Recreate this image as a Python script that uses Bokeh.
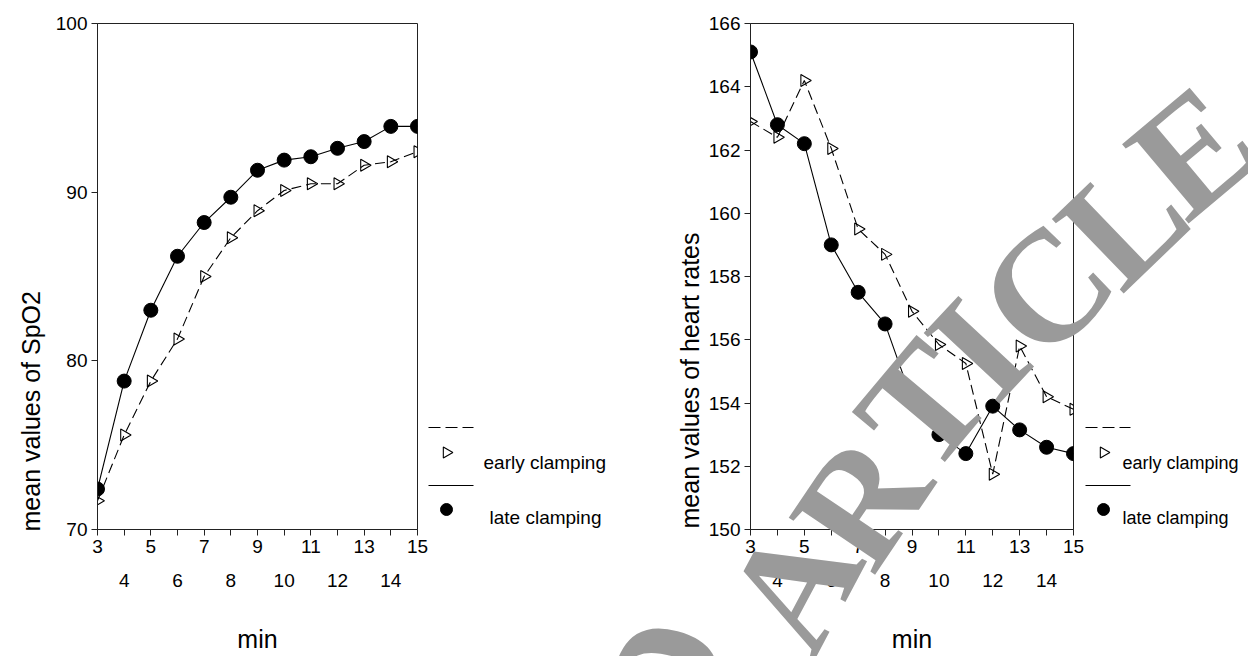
from math import pi, radians
from bokeh.plotting import figure
from bokeh.layouts import row, column
from bokeh.models import Range1d, LinearAxis, FixedTicker
from bokeh.core.properties import value
from bokeh.embed import file_html
from bokeh.resources import INLINE

# ---------------- data ----------------
minutes = [3, 4, 5, 6, 7, 8, 9, 10, 11, 12, 13, 14, 15]
even_minutes = [4, 6, 8, 10, 12, 14]

spo2_early = [71.7, 75.6, 78.8, 81.3, 85.0, 87.3, 88.9, 90.1, 90.5, 90.5, 91.6, 91.8, 92.4]
spo2_late = [72.4, 78.8, 83.0, 86.2, 88.2, 89.7, 91.3, 91.9, 92.1, 92.6, 93.0, 93.9, 93.9]

hr_early = [162.9, 162.4, 164.2, 162.05, 159.5, 158.7, 156.9, 155.85, 155.25, 151.75, 155.8, 154.2, 153.8]
hr_late = [165.1, 162.8, 162.2, 159.0, 157.5, 156.5, 154.1, 153.0, 152.4, 153.9, 153.15, 152.6, 152.4]

spo2_ticks = [70, 80, 90, 100]
hr_ticks = [150, 152, 154, 156, 158, 160, 162, 164, 166]

series_names = ["early clamping", "late clamping"]
x_title = "min"
y_titles = ["mean values of SpO2", "mean values of heart rates"]

watermark_letters = ["D", "A", "R", "T", "I", "C", "L", "E"]

# ---------------- styling / layout (page pixels) ----------------
FONT = "Liberation Sans"
SERIF = "Liberation Serif"
TICK_SIZE = "19px"
TITLE_SIZE = "25px"
AXIS_COLOR = "#222222"
EARLY_DASH = "10 5"

PAGE_W, PAGE_H = 1248, 656
FRAME_TOP, FRAME_H = 23, 506

# y titles: x centre, bottom end (page px)
ytitle_x = [30, 689]
ytitle_y = [531, 528]

# legend blocks: left edge of the line samples, rows' y, text x, font sizes
leg_x0 = [428, 1085]
leg_text_x_early = [483, 1122]
leg_text_x_late = [489, 1122]
leg_font = ["19px", "18px"]
LEG_ROW_Y = [427, 452, 462, 485, 509, 517]   # dash line, triangle, text, solid line, circle, text
LEG_LINE_LEN = 45

# watermark letter placement (page px) and rotation (degrees)
wm_x = [663, 793, 860, 922, 977, 1045, 1122, 1192]
wm_y = [678, 585, 500, 405, 348, 288, 220, 150]
wm_a = [75, 62, 56, 50, 47, 45, 44, 40]
WM_SIZE = "158px"


def make_panel(y_lo, y_hi, yticks, early, late, width, border_left, frame_w):
    p = figure(width=width, height=PAGE_H,
               x_range=Range1d(3, 15), y_range=Range1d(y_lo, y_hi),
               output_backend="svg", toolbar_location=None,
               x_axis_location=None, y_axis_location=None,
               min_border_left=border_left,
               min_border_right=width - border_left - frame_w,
               min_border_top=FRAME_TOP,
               min_border_bottom=PAGE_H - FRAME_TOP - FRAME_H)
    p.xgrid.visible = False
    p.ygrid.visible = False
    p.outline_line_color = AXIS_COLOR
    p.outline_line_width = 1
    p.background_fill_color = "white"
    p.border_fill_color = "white"

    yax = LinearAxis(ticker=FixedTicker(ticks=yticks))
    yax.axis_line_color = AXIS_COLOR
    yax.major_tick_line_color = AXIS_COLOR
    yax.major_tick_in = 0
    yax.major_tick_out = 6
    yax.minor_tick_line_color = None
    yax.major_label_standoff = 4
    yax.major_label_text_font = FONT
    yax.major_label_text_font_size = TICK_SIZE
    yax.major_label_text_color = "black"
    p.add_layout(yax, "left")

    # x axis, odd labels on the first row
    xax = LinearAxis(ticker=FixedTicker(ticks=minutes),
                     major_label_overrides={m: ("" if m in even_minutes else str(m)) for m in minutes})
    xax.axis_line_color = AXIS_COLOR
    xax.major_tick_line_color = AXIS_COLOR
    xax.major_tick_in = 0
    xax.major_tick_out = 6
    xax.minor_tick_line_color = None
    xax.major_label_standoff = 4
    xax.major_label_text_font = FONT
    xax.major_label_text_font_size = TICK_SIZE
    xax.major_label_text_color = "black"
    p.add_layout(xax, "below")

    # even labels on the second row + axis title
    xax2 = LinearAxis(ticker=FixedTicker(ticks=even_minutes), axis_label=x_title)
    xax2.axis_line_color = None
    xax2.major_tick_line_color = None
    xax2.major_tick_in = 0
    xax2.major_tick_out = 0
    xax2.minor_tick_line_color = None
    xax2.major_label_standoff = 18
    xax2.major_label_text_font = FONT
    xax2.major_label_text_font_size = TICK_SIZE
    xax2.major_label_text_color = "black"
    xax2.axis_label_text_font = FONT
    xax2.axis_label_text_font_size = TITLE_SIZE
    xax2.axis_label_text_font_style = "normal"
    xax2.axis_label_text_color = "black"
    xax2.axis_label_standoff = 35
    p.add_layout(xax2, "below")

    p.line(minutes, early, line_color="black", line_width=1.1, line_dash=EARLY_DASH)
    p.scatter(minutes, early, marker="triangle", angle=-pi / 2, size=12,
              fill_color=None, line_color="black", line_width=1.1)
    p.line(minutes, late, line_color="black", line_width=1.1)
    p.scatter(minutes, late, marker="circle", size=14,
              fill_color="black", line_color="black")
    return p


p1 = make_panel(70, 100, spo2_ticks, spo2_early, spo2_late,
                width=640, border_left=97, frame_w=320)
p2 = make_panel(150, 166, hr_ticks, hr_early, hr_late,
                width=PAGE_W - 640, border_left=110, frame_w=323)

# ---------------- overlay: y titles, legends, watermark ----------------
ov = figure(width=PAGE_W, height=PAGE_H,
            x_range=Range1d(0, PAGE_W), y_range=Range1d(PAGE_H, 0),
            output_backend="svg", toolbar_location=None,
            x_axis_location=None, y_axis_location=None,
            min_border=0, min_border_left=0, min_border_right=0,
            min_border_top=0, min_border_bottom=0)
ov.xgrid.visible = False
ov.ygrid.visible = False
ov.outline_line_color = None
ov.background_fill_alpha = 0
ov.border_fill_alpha = 0

# y axis titles
ov.text(x=ytitle_x, y=ytitle_y, text=y_titles, angle=pi / 2,
        text_align="left", text_baseline="middle",
        text_font=value(FONT), text_font_size=TITLE_SIZE, text_color="black")

# legends
for i in range(2):
    x0 = leg_x0[i]
    ly_dash, ly_tri, ly_t1, ly_solid, ly_circ, ly_t2 = LEG_ROW_Y
    ov.segment(x0=[x0], y0=[ly_dash], x1=[x0 + LEG_LINE_LEN], y1=[ly_dash],
               line_color="black", line_width=1.1, line_dash="12 5")
    ov.scatter(x=[x0 + 18], y=[ly_tri], marker="triangle", angle=-pi / 2, size=11,
               fill_color=None, line_color="black", line_width=1.1)
    ov.text(x=[leg_text_x_early[i]], y=[ly_t1], text=[series_names[0]],
            text_align="left", text_baseline="middle",
            text_font=value(FONT), text_font_size=leg_font[i], text_color="black")
    ov.segment(x0=[x0], y0=[ly_solid], x1=[x0 + LEG_LINE_LEN], y1=[ly_solid],
               line_color="black", line_width=1.1)
    ov.scatter(x=[x0 + 18], y=[ly_circ], marker="circle", size=12,
               fill_color="black", line_color="black")
    ov.text(x=[leg_text_x_late[i]], y=[ly_t2], text=[series_names[1]],
            text_align="left", text_baseline="middle",
            text_font=value(FONT), text_font_size=leg_font[i], text_color="black")

# "RETRACTED ARTICLE" stamp (visible letters)
ov.text(x=wm_x, y=wm_y, text=watermark_letters, angle=[radians(a) for a in wm_a],
        text_align="center", text_baseline="middle",
        text_font=value(SERIF), text_font_style="bold", text_font_size=WM_SIZE,
        text_color="#9a9a9a")
ov.margin = (-PAGE_H, 0, 0, 0)

layout = column(row(p1, p2, spacing=0), ov, spacing=0)
open("out.html", "w").write(file_html(layout, INLINE))
